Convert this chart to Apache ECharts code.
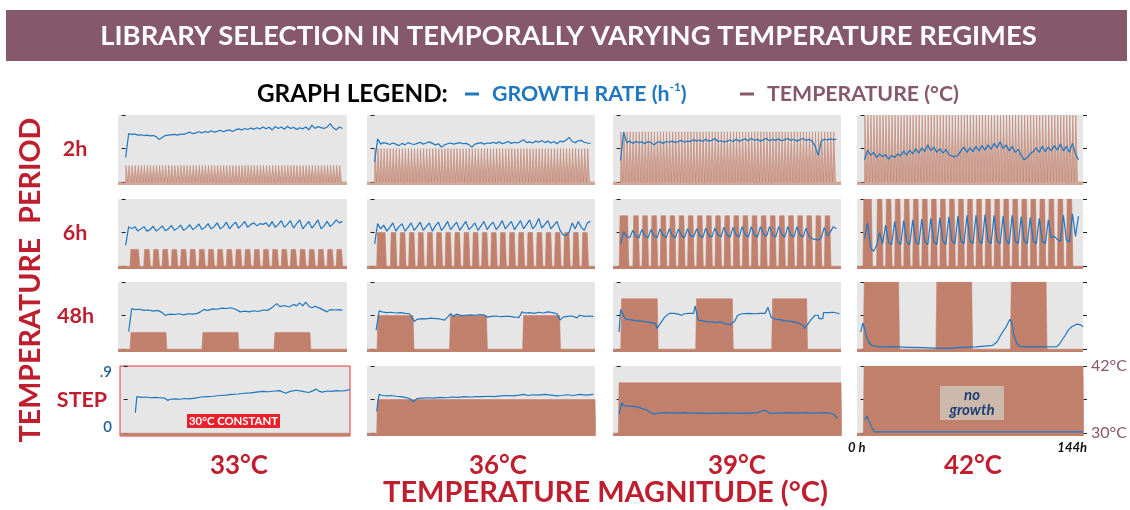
<!DOCTYPE html>
<html><head><meta charset="utf-8">
<script src="https://cdn.jsdelivr.net/npm/echarts@6/dist/echarts.min.js"></script>
<style>html,body{margin:0;padding:0;background:#fff}#chart{width:1130px;height:510px}</style>
</head><body><div id="chart"></div>
<script>
// ================= DATA =================
const periods = ['2h', '6h', '48h', 'STEP'];
const magnitudes = ['33°C', '36°C', '39°C', '42°C'];
const highTemps = [33, 36, 39, 42];
const lowTemp = 30;
const tempTicks = [30, 36, 42];
const tempLabels = [30, 42];
const growthTicks = [0, 0.45, 0.9];
const growthLabels = [0, 0.9];
const timeLabels = ['0 h', '144h'];

// temperature schedules (hours)
const pulses2h = [0,2,4,6,8,10,12,14,16,18,20,22,24,26,28,30,32,34,36,38,40,42,44,46,48,50,52,54,56,58,60,62,64,66,68,70,72,74,76,78,80,82,84,86,88,90,92,94,96,98,100,102,104,106,108,110,112,114,116,118,120,122,124,126,128,130,132,134,136,138,140];
const pulseLen2h = 1;
const blocks6h = [[0,5.5],[9,12.5],[15,18.5],[21,24.5],[27,30.5],[33,36.5],[39,42.5],[45,48.5],[51,54.5],[57,60.5],[63,66.5],[69,72.5],[75,78.5],[81,84.5],[87,90.5],[93,96.5],[99,102.5],[105,108.5],[111,114.5],[117,120.5],[123,126.5],[129,132.5],[135,138.5]];
const start6h = [2.9, 1.4, -0.9, -1.0];
const blocks48h_33 = [[2.9,26.4],[50,73.6],[97.2,120.7]];
const blocks48h_36 = [[1.6,25.3],[49.3,73.6],[97.4,121.7]];
const blocks48h_39 = [[0.1,24.1],[49.4,73.5],[99.4,122.4]];
const blocks48h_42 = [[-0.8,22.6],[47.4,71.1],[96.8,120.5]];
const blocksStep_33 = []; // 30°C constant
const blocksStep_36 = [[1.4,145]];
const blocksStep_39 = [[-1.5,145]];
const blocksStep_42 = [[-0.8,145]];

// growth rate (h^-1): rows 2h and 6h sampled every 2 h from t = 0
const growthStep = 2;
const g2h_33 = [0.33,0.65,0.64,0.645,0.63,0.635,0.625,0.63,0.62,0.625,0.61,0.57,0.60,0.625,0.63,0.635,0.64,0.63,0.645,0.64,0.655,0.67,0.65,0.66,0.675,0.66,0.68,0.665,0.69,0.67,0.68,0.695,0.675,0.69,0.70,0.68,0.70,0.715,0.70,0.72,0.705,0.725,0.71,0.73,0.715,0.74,0.715,0.735,0.70,0.745,0.72,0.74,0.71,0.75,0.72,0.735,0.705,0.73,0.715,0.74,0.70,0.765,0.72,0.745,0.73,0.72,0.74,0.785,0.73,0.70,0.74,0.72];
const g2h_36 = [0.27,0.58,0.51,0.53,0.52,0.505,0.525,0.51,0.49,0.52,0.50,0.53,0.515,0.505,0.52,0.535,0.51,0.525,0.54,0.52,0.50,0.515,0.47,0.50,0.515,0.525,0.51,0.52,0.53,0.515,0.52,0.505,0.47,0.51,0.52,0.53,0.51,0.525,0.52,0.535,0.52,0.54,0.515,0.53,0.545,0.52,0.535,0.525,0.545,0.57,0.53,0.54,0.525,0.55,0.535,0.56,0.53,0.55,0.525,0.545,0.515,0.55,0.54,0.565,0.60,0.545,0.53,0.555,0.56,0.535,0.525,0.52];
const g2h_39 = [0.29,0.67,0.53,0.55,0.52,0.545,0.53,0.54,0.515,0.545,0.53,0.50,0.535,0.54,0.52,0.545,0.535,0.55,0.53,0.545,0.56,0.535,0.55,0.545,0.57,0.55,0.565,0.545,0.575,0.55,0.56,0.585,0.545,0.555,0.54,0.55,0.565,0.545,0.575,0.55,0.565,0.58,0.555,0.59,0.56,0.575,0.55,0.57,0.585,0.555,0.575,0.56,0.58,0.555,0.57,0.585,0.56,0.575,0.55,0.57,0.585,0.56,0.575,0.55,0.48,0.36,0.55,0.575,0.565,0.58,0.57,0.575];
const g2h_42 = [0.30,0.43,0.36,0.40,0.33,0.38,0.34,0.37,0.31,0.36,0.33,0.38,0.35,0.42,0.36,0.43,0.38,0.45,0.39,0.46,0.41,0.50,0.42,0.47,0.40,0.45,0.39,0.44,0.37,0.35,0.34,0.36,0.42,0.47,0.40,0.46,0.41,0.48,0.42,0.49,0.43,0.50,0.44,0.52,0.46,0.54,0.45,0.50,0.42,0.48,0.40,0.44,0.36,0.30,0.33,0.38,0.41,0.46,0.40,0.48,0.41,0.47,0.42,0.49,0.43,0.51,0.42,0.48,0.40,0.52,0.38,0.30];
const g6h_33 = [0.28,0.53,0.50,0.53,0.47,0.50,0.53,0.47,0.49,0.535,0.47,0.50,0.54,0.475,0.50,0.545,0.48,0.51,0.55,0.48,0.51,0.555,0.49,0.52,0.565,0.49,0.52,0.57,0.50,0.53,0.58,0.50,0.53,0.59,0.50,0.55,0.59,0.51,0.55,0.60,0.52,0.56,0.58,0.54,0.57,0.56,0.58,0.53,0.60,0.52,0.56,0.61,0.52,0.56,0.61,0.51,0.57,0.62,0.50,0.55,0.60,0.51,0.56,0.62,0.50,0.54,0.60,0.53,0.57,0.62,0.58,0.60];
const g6h_36 = [0.30,0.57,0.50,0.55,0.47,0.52,0.58,0.47,0.53,0.57,0.47,0.52,0.58,0.48,0.53,0.59,0.48,0.53,0.58,0.47,0.54,0.59,0.48,0.53,0.60,0.49,0.54,0.59,0.48,0.54,0.60,0.49,0.53,0.58,0.48,0.54,0.60,0.49,0.55,0.59,0.49,0.54,0.61,0.50,0.55,0.60,0.49,0.55,0.61,0.50,0.56,0.62,0.50,0.55,0.64,0.51,0.56,0.61,0.50,0.55,0.60,0.48,0.42,0.41,0.46,0.58,0.50,0.60,0.52,0.48,0.58,0.60];
const g6h_39 = [0.30,0.46,0.40,0.38,0.48,0.40,0.38,0.49,0.40,0.38,0.49,0.40,0.38,0.50,0.41,0.38,0.50,0.41,0.38,0.50,0.41,0.38,0.50,0.41,0.39,0.50,0.41,0.38,0.51,0.41,0.39,0.51,0.42,0.39,0.52,0.42,0.39,0.52,0.42,0.39,0.53,0.42,0.39,0.53,0.42,0.39,0.53,0.43,0.40,0.53,0.42,0.39,0.53,0.43,0.39,0.53,0.42,0.39,0.53,0.42,0.39,0.51,0.40,0.37,0.36,0.35,0.38,0.52,0.41,0.46,0.53,0.50];
const g6h_42 = [0.37,0.58,0.25,0.20,0.28,0.45,0.30,0.55,0.32,0.29,0.60,0.33,0.29,0.61,0.33,0.29,0.62,0.33,0.29,0.63,0.33,0.29,0.64,0.33,0.29,0.65,0.34,0.29,0.66,0.34,0.30,0.67,0.34,0.30,0.68,0.34,0.30,0.68,0.35,0.30,0.69,0.35,0.30,0.68,0.34,0.30,0.67,0.35,0.30,0.68,0.34,0.30,0.66,0.34,0.30,0.65,0.34,0.30,0.64,0.33,0.30,0.62,0.38,0.40,0.36,0.33,0.68,0.35,0.32,0.70,0.40,0.67];
// rows 48h and STEP: [hour, growth]
const g48h_33 = [[2,0.235],[4,0.545],[6,0.53],[9,0.535],[12,0.52],[15,0.525],[18,0.51],[21,0.52],[24,0.49],[26,0.455],[29,0.47],[32,0.465],[35,0.475],[38,0.46],[41,0.475],[44,0.47],[47,0.48],[49,0.50],[51,0.53],[54,0.52],[57,0.54],[60,0.535],[63,0.55],[66,0.545],[69,0.555],[72,0.535],[75,0.50],[78,0.51],[81,0.50],[84,0.515],[87,0.505],[90,0.525],[93,0.52],[96,0.56],[99,0.61],[101,0.57],[104,0.585],[107,0.565],[110,0.60],[112,0.58],[114,0.62],[116,0.58],[118,0.63],[120,0.575],[122,0.555],[124,0.575],[127,0.55],[130,0.52],[132,0.50],[134,0.53],[137,0.525],[140,0.53],[142,0.52]];
const g48h_36 = [[1,0.255],[3,0.515],[5,0.50],[8,0.49],[11,0.495],[14,0.485],[17,0.49],[20,0.48],[23,0.475],[25,0.41],[26,0.37],[28,0.40],[31,0.41],[34,0.405],[37,0.415],[40,0.41],[43,0.405],[46,0.39],[48,0.43],[50,0.475],[52,0.44],[54,0.47],[57,0.45],[60,0.455],[63,0.46],[66,0.455],[69,0.465],[72,0.46],[74,0.43],[77,0.44],[80,0.445],[83,0.435],[86,0.44],[89,0.44],[92,0.43],[95,0.425],[97,0.50],[99,0.485],[102,0.49],[105,0.48],[108,0.495],[111,0.485],[114,0.50],[117,0.49],[120,0.475],[122,0.39],[124,0.43],[127,0.44],[130,0.445],[133,0.42],[135,0.455],[138,0.44],[141,0.445],[144,0.44]];
const g48h_39 = [[-1,0.23],[0,0.53],[1,0.52],[3,0.41],[5,0.40],[8,0.39],[11,0.38],[14,0.375],[17,0.365],[20,0.355],[23,0.34],[24,0.28],[26,0.34],[29,0.43],[32,0.48],[35,0.48],[38,0.47],[40,0.455],[42,0.475],[45,0.48],[48,0.48],[49,0.58],[51,0.39],[54,0.38],[57,0.37],[60,0.365],[63,0.355],[66,0.365],[69,0.34],[72,0.33],[73,0.31],[75,0.37],[77,0.455],[80,0.475],[84,0.48],[88,0.475],[92,0.48],[95,0.48],[96,0.50],[97,0.56],[99,0.43],[102,0.40],[105,0.395],[108,0.38],[111,0.375],[114,0.365],[117,0.35],[120,0.32],[121,0.28],[123,0.33],[125,0.39],[128,0.455],[130,0.455],[130.5,0.41],[133,0.41],[133.5,0.49],[137,0.49],[140,0.495],[144,0.475]];
const g48h_42 = [[-2.5,0.23],[-1.2,0.35],[0,0.28],[1.5,0.16],[2.5,0.10],[5,0.05],[8,0.035],[14,0.03],[21,0.03],[30,0.025],[40,0.02],[50,0.012],[56,0.01],[62,0.02],[74,0.03],[85,0.05],[88,0.10],[91,0.21],[94,0.30],[96.5,0.40],[97.6,0.37],[99,0.20],[101,0.08],[103,0.04],[105.4,0.03],[115,0.03],[127.5,0.035],[129,0.06],[133,0.18],[135.2,0.255],[137.5,0.30],[140.8,0.335],[143,0.33],[145,0.30]];
const gStep_33 = [[5,0.275],[6,0.49],[9,0.48],[12,0.485],[15,0.475],[18,0.48],[21,0.475],[24,0.47],[26,0.44],[28,0.455],[31,0.46],[34,0.455],[37,0.465],[40,0.46],[44,0.47],[48,0.485],[52,0.49],[56,0.495],[60,0.505],[64,0.51],[68,0.52],[72,0.525],[76,0.535],[80,0.54],[84,0.55],[88,0.56],[92,0.555],[96,0.565],[99,0.57],[103,0.535],[106,0.56],[110,0.575],[114,0.56],[118,0.545],[121,0.57],[123,0.59],[125,0.56],[127,0.55],[130,0.565],[133,0.56],[136,0.57],[139,0.565],[142,0.57],[145,0.585]];
const gStep_36 = [[1.4,0.29],[2.9,0.52],[5,0.505],[8,0.50],[11,0.505],[14,0.495],[17,0.49],[20,0.48],[23,0.465],[25.5,0.42],[28,0.465],[31,0.47],[35,0.475],[39,0.47],[43,0.48],[47,0.475],[51,0.485],[55,0.48],[59,0.49],[63,0.485],[67,0.49],[71,0.49],[75,0.495],[79,0.49],[83,0.50],[87,0.505],[91,0.50],[95,0.51],[98,0.52],[101,0.505],[104,0.515],[108,0.51],[112,0.52],[116,0.51],[120,0.50],[123,0.505],[127,0.515],[131,0.505],[135,0.52],[139,0.51],[144,0.52]];
const gStep_39 = [[-1,0.255],[0.7,0.41],[2,0.37],[4,0.365],[7,0.36],[10,0.355],[13,0.34],[17,0.31],[20,0.275],[22,0.255],[25,0.27],[30,0.275],[36,0.27],[42,0.275],[48,0.27],[54,0.27],[60,0.265],[66,0.27],[72,0.27],[78,0.265],[84,0.27],[90,0.275],[95,0.31],[98,0.265],[104,0.27],[110,0.275],[116,0.27],[122,0.275],[128,0.27],[134,0.275],[138,0.27],[140,0.255],[142.6,0.20]];
const gStep_42 = [[0.3,0.175],[1.4,0.23],[3,0.16],[5,0.07],[6.5,0.018],[145,0.018]];

// ================= LAYOUT / STYLE =================
const BLUE = '#1f76c1', BROWN = '#c1806b', MAUVE = '#85596b', RED = '#be1e2e', GRAY = '#e6e6e6';
const FONT = 'Lato';
const colLeft = [118, 367, 613, 857], colWidth = [229, 228, 228, 226];
const rowTop = [115, 199, 282, 366], panelH = 70;
const XMIN = -5, XMAX = 145;
const TMIN = 29.5, TMAX = 42, GMIN = -0.0375, GMAX = 0.9;
const ramps = [[0.25, 0.35], [0.5, 0.8], [0.6, 0.6], [0.5, 0.5]];

const mctx = document.createElement('canvas').getContext('2d');
function fit(text, target, weight = 'bold', style = 'normal') {
  mctx.font = style + ' ' + weight + ' 100px ' + FONT;
  return 100 * target / mctx.measureText(text).width;
}

function wave(blocks, offset, high, rise, fall) {
  const pts = [[XMIN, lowTemp]];
  blocks.forEach(([s, e]) => {
    s += offset; e += offset;
    pts.push([s, lowTemp], [s + rise, high], [e, high], [e + fall, lowTemp]);
  });
  if (pts[pts.length - 1][0] < XMAX) pts.push([XMAX, lowTemp]);
  return pts;
}
const sampled = arr => arr.map((v, i) => [i * growthStep, v]);

const growth = [
  [g2h_33, g2h_36, g2h_39, g2h_42].map(sampled),
  [g6h_33, g6h_36, g6h_39, g6h_42].map(sampled),
  [g48h_33, g48h_36, g48h_39, g48h_42],
  [gStep_33, gStep_36, gStep_39, gStep_42]
];
const tempBlocks = [
  [0, 1, 2, 3].map(() => pulses2h.map(s => [s, s + pulseLen2h])),
  [0, 1, 2, 3].map(() => blocks6h),
  [blocks48h_33, blocks48h_36, blocks48h_39, blocks48h_42],
  [blocksStep_33, blocksStep_36, blocksStep_39, blocksStep_42]
];
const tempOffsets = [[0, 0, 0, 0], start6h, [0, 0, 0, 0], [0, 0, 0, 0]];

const grids = [], xAxes = [], yAxes = [], series = [];
const tickStyle = { color: '#222', width: 1 };
for (let r = 0; r < 4; r++) {
  for (let c = 0; c < 4; c++) {
    const i = r * 4 + c;
    const special = (r === 3 && c === 0);
    grids.push({
      left: special ? 120 : colLeft[c], top: rowTop[r], width: special ? 230 : colWidth[c], height: panelH,
      show: true, backgroundColor: GRAY,
      borderWidth: special ? 1 : 0, borderColor: special ? '#e8343b' : 'transparent'
    });
    xAxes.push({ gridIndex: i, type: 'value', min: XMIN, max: XMAX, show: false });
    yAxes.push({
      gridIndex: i, type: 'value', min: GMIN, max: GMAX, position: 'left',
      axisLine: { show: false }, splitLine: { show: false },
      axisTick: { show: true, customValues: growthTicks, length: 4, inside: false, lineStyle: tickStyle },
      axisLabel: {
        show: special, customValues: growthLabels, margin: 8,
        formatter: v => v === 0 ? '{b|0}' : '{t|.9}',
        rich: {
          t: { color: '#1d5f9c', fontSize: 15, fontWeight: 600, fontFamily: FONT, padding: [12, 0, 0, 0] },
          b: { color: '#1d5f9c', fontSize: 15, fontWeight: 600, fontFamily: FONT, padding: [0, 0, 12, 0] }
        }
      }
    });
    yAxes.push({
      gridIndex: i, type: 'value', min: TMIN, max: TMAX, position: 'right',
      axisLine: { show: false }, splitLine: { show: false },
      axisTick: { show: c === 3, customValues: tempTicks, length: 4, inside: false, lineStyle: tickStyle },
      axisLabel: {
        show: r === 3 && c === 3, customValues: tempLabels, margin: 8,
        formatter: '{value}°C', color: MAUVE, fontSize: 16, fontFamily: FONT
      }
    });
    series.push({
      type: 'line', name: 'TEMPERATURE', xAxisIndex: i, yAxisIndex: 2 * i + 1,
      data: wave(tempBlocks[r][c], tempOffsets[r][c], highTemps[c], ramps[r][0], ramps[r][1]),
      showSymbol: false, silent: true, z: 2,
      lineStyle: { width: 0.6, color: BROWN }, itemStyle: { color: BROWN, borderWidth: 0 },
      areaStyle: { color: BROWN, opacity: r === 0 ? 0.6 : 1, origin: 'start' }
    });
    series.push({
      type: 'line', name: 'GROWTH RATE', xAxisIndex: i, yAxisIndex: 2 * i,
      data: growth[r][c], showSymbol: false, silent: true, z: 3,
      lineStyle: { width: 1.2, color: BLUE }, itemStyle: { color: BLUE, borderWidth: 0 }
    });
  }
}

// text sizes fitted to the reference widths
const sTitle = fit('LIBRARY SELECTION IN TEMPORALLY VARYING TEMPERATURE REGIMES', 937);
const sLegHead = fit('GRAPH LEGEND:', 191);
const sLeg = fit('TEMPERATURE (°C)', 192);
const sYTitle = fit('TEMPERATURE  PERIOD', 325);
const sRow = fit('48h', 37);
const sCol = fit('33°C', 58);
const sXTitle = fit('TEMPERATURE MAGNITUDE (°C)', 445);
const sConst = fit('30°C CONSTANT', 89);

const txt = (x, y, text, size, fill, extra = {}) => Object.assign({
  type: 'text', x, y, silent: true,
  style: Object.assign({ text, fill, fontSize: size, fontFamily: FONT, fontWeight: 'bold', align: 'center', verticalAlign: 'middle' }, extra.style || {})
}, extra.el || {});

const graphic = [
  { type: 'rect', shape: { x: 6, y: 10, width: 1121, height: 51 }, style: { fill: MAUVE }, silent: true },
  txt(568.5, 36, 'LIBRARY SELECTION IN TEMPORALLY VARYING TEMPERATURE REGIMES', sTitle, '#fff'),
  txt(257, 94, 'GRAPH LEGEND:', sLegHead, '#000', { style: { align: 'left' } }),
  txt(31, 280, 'TEMPERATURE  PERIOD', sYTitle, RED, { el: { rotation: Math.PI / 2 } }),
  txt(75, 149, periods[0], sRow, RED),
  txt(75, 233, periods[1], sRow, RED),
  txt(75.5, 316, periods[2], sRow, RED),
  txt(82, 400, periods[3], sRow, RED),
  txt(239, 466, magnitudes[0], sCol, RED),
  txt(498, 466, magnitudes[1], sCol, RED),
  txt(737, 466, magnitudes[2], sCol, RED),
  txt(973, 466, magnitudes[3], sCol, RED),
  txt(605.5, 493, 'TEMPERATURE MAGNITUDE (°C)', sXTitle, RED),
  txt(848, 448, timeLabels[0], 13, '#111', { style: { align: 'left', fontStyle: 'italic' } }),
  txt(1087, 448, timeLabels[1], 13, '#111', { style: { align: 'right', fontStyle: 'italic' } }),
  { type: 'rect', shape: { x: 187, y: 414, width: 93, height: 14 }, style: { fill: '#e8222c' }, silent: true, z: 10 },
  Object.assign(txt(233.5, 421.5, '30°C CONSTANT', sConst, '#fff'), { z: 11 }),
  { type: 'rect', shape: { x: 940, y: 386, width: 64, height: 34 }, style: { fill: '#cdb8ac' }, silent: true, z: 10 },
  Object.assign(txt(972, 403, 'no\ngrowth', 15, '#1e3f74', { style: { fontStyle: 'italic', lineHeight: 15 } }), { z: 11 })
];

const noBorder = { borderWidth: 0, borderColor: 'rgba(0,0,0,0)' };
const legendCommon = {
  orient: 'horizontal', padding: 0, icon: 'rect', itemWidth: 14, itemHeight: 3, selectedMode: false,
  itemStyle: noBorder, lineStyle: { width: 0, color: 'rgba(0,0,0,0)' }
};
const option = {
  animation: false,
  backgroundColor: '#fff',
  textStyle: { fontFamily: FONT },
  grid: grids, xAxis: xAxes, yAxis: yAxes, series,
  legend: [
    Object.assign({}, legendCommon, {
      left: 465, top: 81,
      data: [{ name: 'GROWTH RATE', icon: 'rect', itemStyle: Object.assign({ color: BLUE }, noBorder) }],
      formatter: () => 'GROWTH RATE (h{sup|-1})',
      textStyle: {
        color: BLUE, fontFamily: FONT, fontWeight: 'bold', fontSize: sLeg, lineHeight: 26, padding: [0, 0, 0, 8],
        rich: { sup: { color: BLUE, fontFamily: FONT, fontWeight: 'bold', fontSize: sLeg * 0.55, verticalAlign: 'top', lineHeight: 18 } }
      }
    }),
    Object.assign({}, legendCommon, {
      left: 740, top: 81,
      data: [{ name: 'TEMPERATURE', icon: 'rect', itemStyle: Object.assign({ color: MAUVE, opacity: 1 }, noBorder) }],
      formatter: () => 'TEMPERATURE (°C)',
      textStyle: { color: MAUVE, fontFamily: FONT, fontWeight: 'bold', fontSize: sLeg, lineHeight: 26, padding: [0, 0, 0, 8] }
    })
  ],
  graphic
};
const chart = echarts.init(document.getElementById('chart'), null, { renderer: 'canvas' });
chart.setOption(option);
</script>
</body></html>
